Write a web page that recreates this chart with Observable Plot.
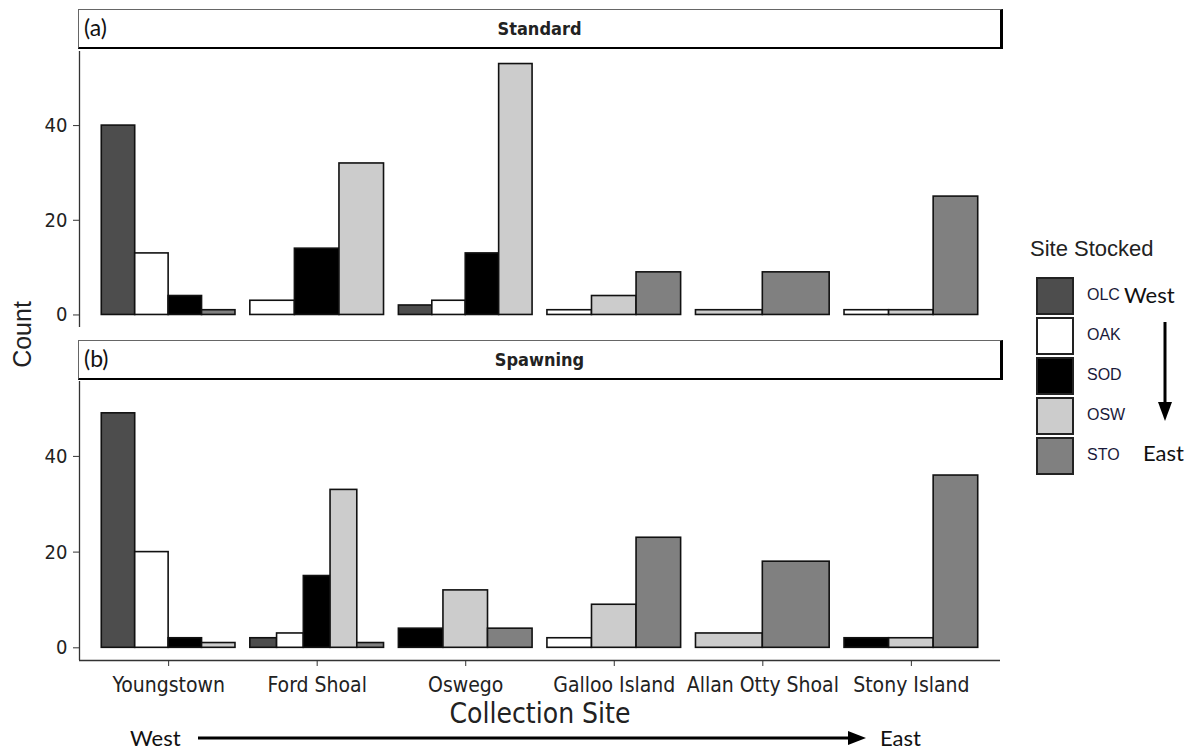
<!DOCTYPE html>
<html><head><meta charset="utf-8">
<script src="https://cdn.jsdelivr.net/npm/d3@7"></script>
<script src="https://cdn.jsdelivr.net/npm/@observablehq/plot@0.6"></script>
<style>
body{margin:0;background:#fff;}
#root{position:relative;width:1197px;height:752px;overflow:hidden;background:#fff;font-family:"Liberation Sans Narrow","DejaVu Sans Condensed","Liberation Sans",Arial,sans-serif;color:#222;}
.abs{position:absolute;}
.strip{position:absolute;left:78px;width:925px;height:40px;box-sizing:border-box;border:1px solid #666;border-right:3px solid #000;border-bottom:2px solid #000;background:#fff;}
.strip .tag{position:absolute;left:5px;top:3px;font-family:Lato,"Open Sans",sans-serif;font-size:23px;color:#111;}
.strip .name{position:absolute;left:0;right:0;top:8px;text-align:center;font-weight:bold;font-size:18px;color:#222;}
.key{position:absolute;left:1036px;width:38px;height:38px;box-sizing:border-box;border:2px solid #222;}
.ann{font-family:Lato,"Open Sans",sans-serif;font-size:22px;color:#111;}
</style></head>
<body><div id="root"></div>
<script>
const sites = ["Youngstown","Ford Shoal","Oswego","Galloo Island","Allan Otty Shoal","Stony Island"];
const stocked = ["OLC","OAK","SOD","OSW","STO"];
const fills = ["#4d4d4d","#ffffff","#000000","#cccccc","#808080"];
const standardCounts = [
  [40,13,4,0,1],
  [0,3,14,32,0],
  [2,3,13,53,0],
  [0,1,0,4,9],
  [0,0,0,1,9],
  [0,1,0,1,25]
];
const spawningCounts = [
  [49,20,2,1,0],
  [2,3,15,33,1],
  [0,0,4,12,4],
  [0,2,0,9,23],
  [0,0,0,3,18],
  [0,0,2,2,36]
];
const yTicks = [0,20,40];

// ggplot-like dodge: bars present in a group share the 0.9-wide slot
function dodge(counts){
  const rows=[];
  counts.forEach((row,i)=>{
    const present = stocked.map((s,k)=>({s,v:row[k]})).filter(d=>d.v>0);
    const w = 0.9/present.length;
    present.forEach((d,j)=>{
      const x1=(i+1)-0.45+j*w;
      rows.push({site:sites[i],stocked:d.s,count:d.v,x1,x2:x1+w});
    });
  });
  return rows;
}
const yMax = d3.max([...standardCounts.flat(),...spawningCounts.flat()]);
const yDom = [-0.05*yMax, 1.05*yMax];
const xDom = [0.4, sites.length+0.6];
const root = document.getElementById("root");

function panel(counts, showX){
  const data = dodge(counts);
  const marks = [
    Plot.rect(data,{x1:"x1",x2:"x2",y1:0,y2:"count",fill:"stocked",stroke:"#111",strokeWidth:1.6}),
    Plot.ruleX([xDom[0]],{stroke:"#333",strokeWidth:1.3}),
    Plot.axisY({ticks:yTicks,tickSize:6,tickPadding:6,fontSize:20,stroke:"#333",label:null})
  ];
  if(showX){
    marks.push(Plot.ruleY([yDom[0]],{stroke:"#333",strokeWidth:1.3}));
    marks.push(Plot.axisX({ticks:d3.range(1,sites.length+1),tickFormat:d=>sites[d-1],tickSize:6,tickPadding:11,fontSize:21,stroke:"#333",label:null}));
  }
  return Plot.plot({
    width:1003, height: showX?331:280,
    marginLeft:79, marginRight:3, marginTop:2, marginBottom: showX?50:2,
    style:{background:"transparent",fontFamily:'"Liberation Sans Narrow","DejaVu Sans Condensed","Liberation Sans",sans-serif',color:"#222",overflow:"visible"},
    x:{domain:xDom,axis:null},
    y:{domain:yDom,axis:null},
    color:{type:"ordinal",domain:stocked,range:fills},
    marks
  });
}

function place(el,left,top){el.style.position="absolute";el.style.left=left+"px";el.style.top=top+"px";root.appendChild(el);}

const pA = panel(standardCounts,false); place(pA,0,49);
const pB = panel(spawningCounts,true); place(pB,0,379);

function strip(top,tag,name){
  const d=document.createElement("div");d.className="strip";d.style.top=top+"px";
  d.innerHTML=`<span class="tag">${tag}</span><span class="name">${name}</span>`;
  root.appendChild(d);
}
strip(9,"(a)","Standard");
strip(340,"(b)","Spawning");

function text(txt,left,top,css,cls){
  const d=document.createElement("div");d.className="abs"+(cls?" "+cls:"");d.textContent=txt;
  d.style.left=left+"px";d.style.top=top+"px";Object.assign(d.style,css||{});root.appendChild(d);return d;
}
text("Count",-13,320,{fontSize:"25px",fontFamily:'"Liberation Sans",Arial,sans-serif',transform:"rotate(-90deg)",width:"70px",textAlign:"center"});
text("Collection Site",390,697,{fontSize:"28px",width:"300px",textAlign:"center"});

// legend
text("Site Stocked",1030,236,{fontSize:"22px",fontFamily:'"Liberation Sans",Arial,sans-serif'});
stocked.forEach((s,k)=>{
  const b=document.createElement("div");b.className="key";b.style.top=(277+k*40)+"px";b.style.background=fills[k];root.appendChild(b);
  text(s,1087,286+k*40,{fontSize:"16px",fontFamily:'"Liberation Sans",Arial,sans-serif',color:"#1a1a3a"});
});
text("West",1124,281,{},"ann");
text("East",1143,439,{},"ann");
text("West",130,724,{},"ann");
text("East",880,724,{},"ann");

const ns="http://www.w3.org/2000/svg";
const svg=document.createElementNS(ns,"svg");
svg.setAttribute("width",1197);svg.setAttribute("height",752);
svg.style.position="absolute";svg.style.left="0";svg.style.top="0";svg.style.pointerEvents="none";
svg.innerHTML=`<line x1="198" y1="738" x2="850" y2="738" stroke="#000" stroke-width="3"/>
<path d="M848,731 L866,738 L848,745 Z" fill="#000"/>
<line x1="1165" y1="322" x2="1165" y2="404" stroke="#000" stroke-width="3"/>
<path d="M1158,402 L1165,421 L1172,402 Z" fill="#000"/>`;
root.appendChild(svg);
</script>
</body></html>
